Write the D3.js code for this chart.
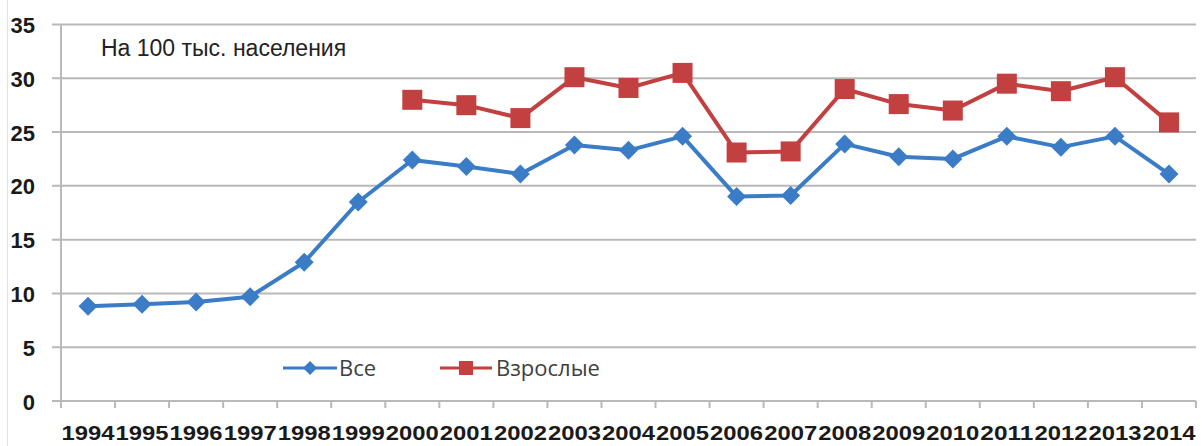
<!DOCTYPE html>
<html>
<head>
<meta charset="utf-8">
<script src="https://cdn.jsdelivr.net/npm/d3@7/dist/d3.min.js"></script>
<style>
  html, body { margin: 0; padding: 0; background: #fff; }
  svg { display: block; }
</style>
</head>
<body>
<svg id="chart" width="1202" height="446"></svg>
<script>
// Years on the category axis
const years = ["1994","1995","1996","1997","1998","1999","2000","2001","2002","2003","2004",
               "2005","2006","2007","2008","2009","2010","2011","2012","2013","2014"];
// Rate per 100k population, all ages
const allValues = [8.8, 9.0, 9.2, 9.7, 12.9, 18.5, 22.4, 21.8, 21.1, 23.8, 23.3,
                   24.6, 19.0, 19.1, 23.9, 22.7, 22.5, 24.6, 23.6, 24.6, 21.1];
// Rate per 100k population, adults (series starts in 2000)
const adultYears = ["2000","2001","2002","2003","2004","2005","2006","2007",
                    "2008","2009","2010","2011","2012","2013","2014"];
const adultValues = [28.0, 27.5, 26.3, 30.1, 29.1, 30.5, 23.1, 23.2,
                     29.0, 27.6, 27.0, 29.5, 28.8, 30.1, 25.9];
const yTicks = [0, 5, 10, 15, 20, 25, 30, 35];
const seriesNames = ["Все", "Взрослые"];
const titleText = "На 100 тыс. населения";

const svg = d3.select("#chart");
const plotLeft = 61, plotRight = 1196, plotTop = 24.5, plotBottom = 401;

const x = d3.scaleBand().domain(years).range([plotLeft, plotRight]);
const y = d3.scaleLinear().domain([0, 35]).range([plotBottom, plotTop]);

const blue = "#3a7cc6";
const red = "#c2403f";
const gridColor = "#b9b9b9";

// faint frame edge on the left
svg.append("line").attr("x1", 7.5).attr("x2", 7.5).attr("y1", 0).attr("y2", 446)
  .attr("stroke", "#e2e2e2").attr("stroke-width", 1);

// horizontal gridlines
svg.append("g").selectAll("line").data(yTicks).join("line")
  .attr("x1", 52).attr("x2", plotRight)
  .attr("y1", d => y(d)).attr("y2", d => y(d))
  .attr("stroke", gridColor).attr("stroke-width", 2);

// vertical axis line
svg.append("line").attr("x1", plotLeft).attr("x2", plotLeft).attr("y1", plotTop).attr("y2", plotBottom)
  .attr("stroke", gridColor).attr("stroke-width", 2);

// category tick marks at band boundaries
const bounds = years.map(d => x(d)).concat([plotRight]);
svg.append("g").selectAll("line").data(bounds).join("line")
  .attr("x1", d => d).attr("x2", d => d)
  .attr("y1", plotBottom).attr("y2", plotBottom + 7)
  .attr("stroke", gridColor).attr("stroke-width", 2);

// y axis labels
const yAxis = d3.axisLeft(y).tickValues(yTicks).tickSize(0).tickPadding(26).tickFormat(d3.format("d"));
const gy = svg.append("g").attr("transform", `translate(${plotLeft},1)`).call(yAxis);
gy.select(".domain").remove();
gy.selectAll("text")
  .attr("font-family", "Liberation Sans, Arial, sans-serif")
  .attr("font-weight", "bold").attr("font-size", 22).attr("fill", "#1a1a1a");

// x axis labels
const xAxis = d3.axisBottom(x).tickSize(0).tickPadding(0);
const gx = svg.append("g").attr("transform", `translate(0,${plotBottom})`).call(xAxis);
gx.select(".domain").remove();
gx.selectAll("text")
  .attr("y", 39).attr("dy", 0)
  .attr("font-family", "Liberation Sans, Arial, sans-serif")
  .attr("font-weight", "bold").attr("font-size", 21).attr("fill", "#1a1a1a")
  .attr("textLength", 53).attr("lengthAdjust", "spacingAndGlyphs");

const cx = d => x(d) + x.bandwidth() / 2;
const line = d3.line().x(d => cx(d.year)).y(d => y(d.value));

const allData = years.map((yr, i) => ({ year: yr, value: allValues[i] }));
const adultData = adultYears.map((yr, i) => ({ year: yr, value: adultValues[i] }));

const diamond = r => `M0,${-r}L${r},0L0,${r}L${-r},0Z`;

// adults series
svg.append("path").datum(adultData).attr("d", line)
  .attr("fill", "none").attr("stroke", red).attr("stroke-width", 4).attr("stroke-linejoin", "round");
svg.append("g").selectAll("rect").data(adultData).join("rect")
  .attr("x", d => cx(d.year) - 10).attr("y", d => y(d.value) - 10)
  .attr("width", 20).attr("height", 20).attr("fill", red);

// all-ages series
svg.append("path").datum(allData).attr("d", line)
  .attr("fill", "none").attr("stroke", blue).attr("stroke-width", 4).attr("stroke-linejoin", "round");
svg.append("g").selectAll("path").data(allData).join("path")
  .attr("transform", d => `translate(${cx(d.year)},${y(d.value)})`)
  .attr("d", diamond(9.5)).attr("fill", blue);

// title note inside the plot
svg.append("text").attr("x", 101).attr("y", 56)
  .attr("font-family", "Liberation Sans, Arial, sans-serif").attr("font-size", 23)
  .attr("fill", "#222").text(titleText);

// legend
const legY = 368;
const leg = svg.append("g").attr("font-family", "Open Sans, sans-serif").attr("font-size", 22).attr("fill", "#404040");
leg.append("line").attr("x1", 283).attr("x2", 337).attr("y1", legY).attr("y2", legY)
  .attr("stroke", blue).attr("stroke-width", 3);
leg.append("path").attr("transform", `translate(310,${legY})`).attr("d", diamond(7)).attr("fill", blue);
leg.append("text").attr("x", 339).attr("y", legY + 8).text(seriesNames[0]);

leg.append("line").attr("x1", 440).attr("x2", 492).attr("y1", legY).attr("y2", legY)
  .attr("stroke", red).attr("stroke-width", 3);
leg.append("rect").attr("x", 459).attr("y", legY - 7).attr("width", 14).attr("height", 14).attr("fill", red);
leg.append("text").attr("x", 496).attr("y", legY + 8).text(seriesNames[1]);
</script>
</body>
</html>
